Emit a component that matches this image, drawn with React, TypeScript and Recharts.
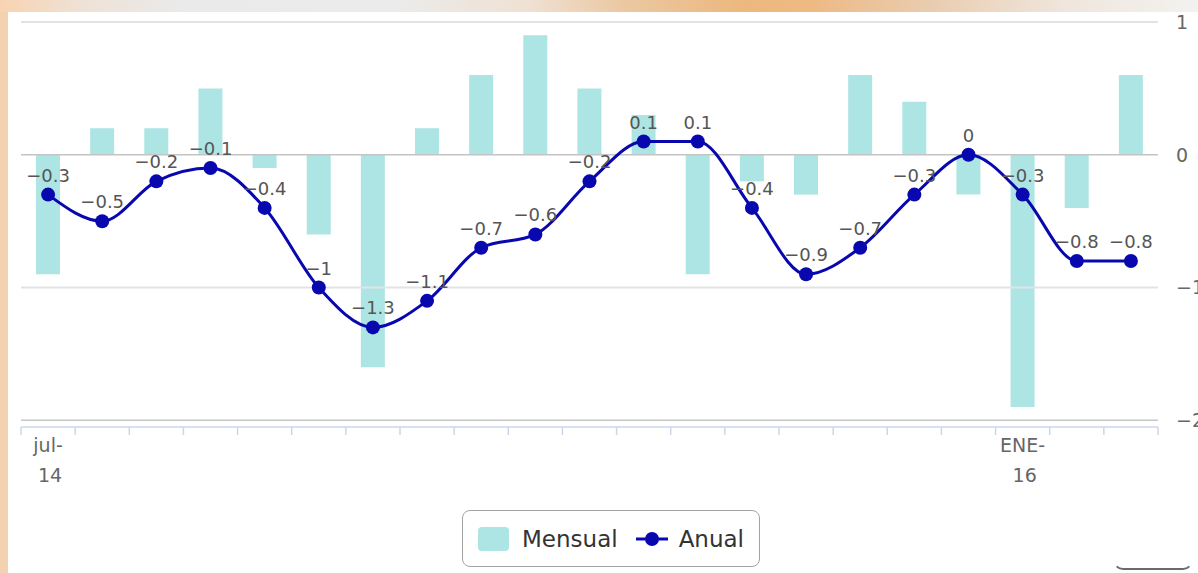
import { ComposedChart, Bar, Line, XAxis, YAxis, ReferenceLine, LabelList, Legend } from 'recharts';

const months = [
  'jul-14', 'ago-14', 'sep-14', 'oct-14', 'nov-14', 'dic-14',
  'ENE-15', 'feb-15', 'mar-15', 'abr-15', 'may-15', 'jun-15',
  'jul-15', 'ago-15', 'sep-15', 'oct-15', 'nov-15', 'dic-15',
  'ENE-16', 'feb-16', 'mar-16',
];

const mensual = [-0.9, 0.2, 0.2, 0.5, -0.1, -0.6, -1.6, 0.2, 0.6, 0.9, 0.5, 0.3, -0.9, -0.2, -0.3, 0.6, 0.4, -0.3, -1.9, -0.4, 0.6];

const anual = [-0.3, -0.5, -0.2, -0.1, -0.4, -1, -1.3, -1.1, -0.7, -0.6, -0.2, 0.1, 0.1, -0.4, -0.9, -0.7, -0.3, 0, -0.3, -0.8, -0.8];

// only these months get a label under the axis
const shownLabels = ['jul-14', 'ENE-16'];

const yTicks = [-2, -1, 0, 1];

const data = months.map((m, i) => ({ month: m, mensual: mensual[i], anual: anual[i] }));

const BAR_COLOR = '#ade5e4';
const LINE_COLOR = '#0808ae';
const FONT = '"DejaVu Sans", Verdana, sans-serif';

const fmt = (v: any) => {
  const n = Number(v);
  return n < 0 ? '\u2212' + String(Math.abs(n)) : String(n);
};

function XTick(props: any) {
  const { x, y, width, index, payload } = props;
  const bw = width / months.length;
  const label: string = payload.value;
  const show = shownLabels.includes(label);
  const [a, b] = label.split('-');
  return (
    <g>
      <line x1={x - bw / 2} x2={x - bw / 2} y1={y} y2={y + 8} stroke='#ccd6eb' strokeWidth={1.5} />
      {index === months.length - 1 && (
        <line x1={x + bw / 2} x2={x + bw / 2} y1={y} y2={y + 8} stroke='#ccd6eb' strokeWidth={1.5} />
      )}
      {show && (
        <text x={x} y={y} textAnchor='middle' fill='#666' fontSize={19} fontFamily={FONT}>
          <tspan x={x} dy={25}>{a}-</tspan>
          <tspan x={x + 2} dy={30}>{b}</tspan>
        </text>
      )}
    </g>
  );
}

function LegendBox() {
  return (
    <div
      style={{
        width: 296,
        height: 55,
        border: '1.5px solid #a3a3a3',
        borderRadius: 8,
        boxSizing: 'content-box',
        display: 'flex',
        alignItems: 'center',
        fontFamily: FONT,
        fontSize: 23,
        color: '#333',
        background: '#fff',
      }}
    >
      <span style={{ width: 31, height: 24, background: BAR_COLOR, borderRadius: 4, marginLeft: 15 }} />
      <span style={{ marginLeft: 13 }}>Mensual</span>
      <svg width={32} height={16} style={{ marginLeft: 18 }}>
        <line x1={0} x2={32} y1={8} y2={8} stroke={LINE_COLOR} strokeWidth={3} />
        <circle cx={16} cy={8} r={7} fill={LINE_COLOR} />
      </svg>
      <span style={{ marginLeft: 11 }}>Anual</span>
    </div>
  );
}

export default function App() {
  return (
    <div
      style={{
        position: 'absolute',
        top: 0,
        left: 0,
        width: 1198,
        height: 573,
        overflow: 'hidden',
        background:
          'linear-gradient(to right, #f8d3b1 0%, #eee2d6 7%, #eaeaea 15%, #ebebeb 33%, #efe1d3 44%, #ebc8a2 52%, #ecb87e 62%, #edba84 68%, #e9cbad 77%, #efe6dd 89%, #f3f2f0 100%)',
      }}
    >
      <div style={{ position: 'absolute', left: 0, top: 12, width: 8, bottom: 0, background: '#f4d2b0' }} />
      <div style={{ position: 'absolute', left: 8, top: 12, right: 0, bottom: 0, background: '#fff' }} />
      <div
        style={{
          position: 'absolute',
          left: 1113,
          top: 522,
          width: 76,
          height: 44,
          border: '2px solid transparent',
          borderBottomColor: '#6a6a6a',
          borderRadius: '0 0 10 10',
          borderBottomLeftRadius: 10,
          borderBottomRightRadius: 10,
        }}
      />
      <div style={{ position: 'absolute', left: 0, top: 0 }}>
        <ComposedChart
          width={1198}
          height={573}
          data={data}
          margin={{ top: 22, left: 21, right: 0, bottom: 86 }}
          barSize={24}
        >
          <XAxis
            dataKey='month'
            interval={0}
            tickLine={false}
            tickSize={0}
            tickMargin={0}
            height={60}
            axisLine={{ stroke: '#ccd6eb', strokeWidth: 1.5 }}
            tick={<XTick />}
          />
          <YAxis
            orientation='right'
            domain={[-2.05, 1]}
            ticks={yTicks}
            width={40}
            tickLine={false}
            axisLine={false}
            tickSize={0}
            tickMargin={18}
            tickFormatter={fmt}
            tick={{ fill: '#666', fontSize: 19, fontFamily: FONT, textAnchor: 'start' }}
          />
          <ReferenceLine y={1} stroke='#e3e3e3' strokeWidth={2} />
          <ReferenceLine y={-1} stroke='#e3e3e3' strokeWidth={2} />
          <ReferenceLine y={-2} stroke='#c6c6c6' strokeWidth={1.5} />
          <ReferenceLine y={0} stroke='#c4c4c4' strokeWidth={1.5} />
          <Legend
            layout='horizontal'
            verticalAlign='middle'
            align='center'
            wrapperStyle={{ top: 510, left: 462, width: 300, height: 58 }}
            content={<LegendBox />}
          />
          <Bar dataKey='mensual' name='Mensual' fill={BAR_COLOR} isAnimationActive={false} />
          <Line
            type='monotone'
            dataKey='anual'
            name='Anual'
            stroke={LINE_COLOR}
            strokeWidth={3}
            dot={{ r: 7, fill: LINE_COLOR, stroke: LINE_COLOR, strokeWidth: 0 }}
            activeDot={false}
            isAnimationActive={false}
          >
            <LabelList
              dataKey='anual'
              position='top'
              offset={13}
              formatter={fmt}
              fill='#555'
              stroke='none'
              fontSize={18}
              fontFamily={FONT}
            />
          </Line>
        </ComposedChart>
      </div>
    </div>
  );
}
